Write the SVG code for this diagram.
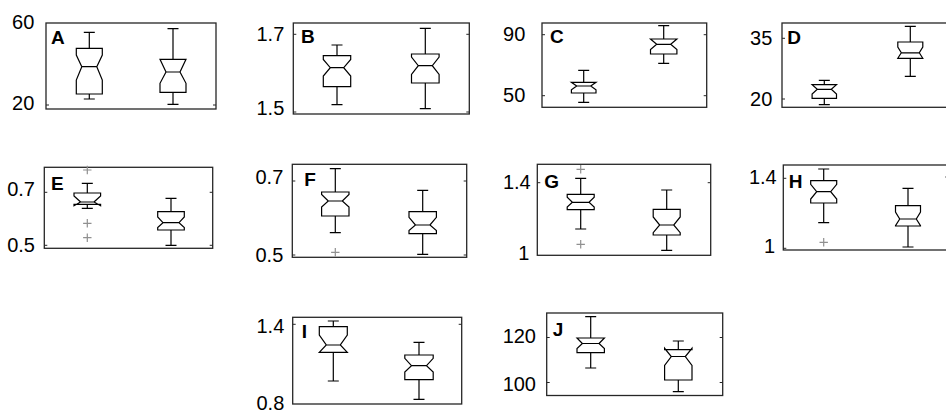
<svg xmlns="http://www.w3.org/2000/svg" width="946" height="411" viewBox="0 0 946 411">
<style>
.fr{fill:none;stroke:#262626;stroke-width:1.3}
.tk{fill:none;stroke:#262626;stroke-width:1}
.bx{fill:none;stroke:#000;stroke-width:1.2;stroke-linejoin:miter}
.ol{fill:none;stroke:#909090;stroke-width:1.2}
.t{font-family:"Liberation Sans",Arial,sans-serif;font-size:20px;fill:#000;text-anchor:end}
.l{font-family:"Liberation Sans",Arial,sans-serif;font-size:19px;font-weight:bold;fill:#000}
</style>
<rect width="946" height="411" fill="#fff"/>
<g id="panelA">
<rect class="fr" x="46" y="23" width="170" height="86"/>
<path class="tk" d="M46,105 H49 M216,105 H213"/>
<text class="t" x="34.3" y="28.5">60</text>
<text class="t" x="34.3" y="110">20</text>
<text class="l" x="51" y="44">A</text>
<path class="bx" d="M76.3,94 H102.3 V80 L96.8,66.7 L102.3,55 V48.3 H76.3 V55 L81.8,66.7 L76.3,80 Z M81.8,66.7 H96.8 M89.3,48.3 V32.3 M83.8,32.3 H94.8 M89.3,94 V99 M83.8,99 H94.8"/>
<path class="bx" d="M160,92.3 H186 V83.3 L180,72 L186,59.3 H160 L166,72 L160,83.3 Z M166,72 H180 M173,59.3 V28.7 M167.5,28.7 H178.5 M173,92.3 V104.3 M167.5,104.3 H178.5"/>
</g>
<g id="panelB">
<rect class="fr" x="293.3" y="23" width="176" height="91"/>
<path class="tk" d="M293.3,34.3 H296.3 M469.3,34.3 H466.3 M293.3,112 H296.3 M469.3,112 H466.3"/>
<text class="t" x="284.3" y="40.5">1.7</text>
<text class="t" x="284.3" y="115">1.5</text>
<text class="l" x="301" y="42.7">B</text>
<path class="bx" d="M323.3,86.7 H350.7 V76 L343.7,67.7 L350.7,59.5 V55.7 H323.3 V59.5 L330.3,67.7 L323.3,76 Z M330.3,67.7 H343.7 M337,55.7 V45 M331.5,45 H342.5 M337,86.7 V104.7 M331.5,104.7 H342.5"/>
<path class="bx" d="M411.5,83 H439.1 V74.5 L432.3,65.7 L439.1,57 V54 H411.5 V57 L418.3,65.7 L411.5,74.5 Z M418.3,65.7 H432.3 M425.3,54 V28.3 M419.8,28.3 H430.8 M425.3,83 V108.7 M419.8,108.7 H430.8"/>
</g>
<g id="panelC">
<rect class="fr" x="542" y="23" width="164.7" height="84.3"/>
<path class="tk" d="M542,34.7 H545 M706.7,34.7 H703.7 M542,95.7 H545 M706.7,95.7 H703.7"/>
<text class="t" x="525.3" y="40.7">90</text>
<text class="t" x="525.3" y="101.7">50</text>
<text class="l" x="550" y="43.3">C</text>
<path class="bx" d="M571.4,93 H596 V89.7 L590.7,86 L596,82.3 H571.4 L576.7,86 L571.4,89.7 Z M576.7,86 H590.7 M583.7,82.3 V70.3 M578.2,70.3 H589.2 M583.7,93 V102.3 M578.2,102.3 H589.2"/>
<path class="bx" d="M650.5,54 H676.9 V49.5 L670.7,44.3 L676.9,39 H650.5 L656.7,44.3 L650.5,49.5 Z M656.7,44.3 H670.7 M663.7,39 V25.7 M658.2,25.7 H669.2 M663.7,54 V63.3 M658.2,63.3 H669.2"/>
</g>
<g id="panelD">
<rect class="fr" x="782" y="23" width="170" height="84.3"/>
<path class="tk" d="M782,38.3 H785 M782,99 H785"/>
<text class="t" x="772.3" y="45">35</text>
<text class="t" x="772.3" y="106">20</text>
<text class="l" x="787.3" y="44.3">D</text>
<path class="bx" d="M812.1,98.3 H836.5 V94 L831.3,89.3 L836.5,84.7 H812.1 L817.3,89.3 L812.1,94 Z M817.3,89.3 H831.3 M824.3,84.7 V80.3 M818.8,80.3 H829.8 M824.3,98.3 V104.7 M818.8,104.7 H829.8"/>
<path class="bx" d="M897.8,58.3 H922.8 L919.3,52.8 L922.8,47 V42 H897.8 V47 L901.3,52.8 Z M901.3,52.8 H919.3 M910.3,42 V26.3 M904.8,26.3 H915.8 M910.3,58.3 V76.3 M904.8,76.3 H915.8"/>
</g>
<g id="panelE">
<rect class="fr" x="44.3" y="167.3" width="168.4" height="81"/>
<path class="tk" d="M44.3,192.3 H47.3 M212.7,192.3 H209.7 M44.3,245.3 H47.3 M212.7,245.3 H209.7"/>
<text class="t" x="35" y="196">0.7</text>
<text class="t" x="35" y="251.7">0.5</text>
<text class="l" x="51" y="190">E</text>
<path class="bx" d="M74,204.3 H100.6 V205.7 L94,202 L100.6,196 V193 H74 V196 L80.6,202 L74,205.7 Z M80.6,202 H94 M87.3,193 V183.3 M81.8,183.3 H92.8 M87.3,204.3 V208.3 M81.8,208.3 H92.8"/>
<path class="ol" d="M83.1,170 H91.5 M87.3,165.8 V174.2 M83.1,223.3 H91.5 M87.3,219.1 V227.5 M83.1,237.7 H91.5 M87.3,233.5 V241.9"/>
<path class="bx" d="M157.7,230 H184.3 V227.5 L179,222.7 L184.3,217 V211.7 H157.7 V217 L163,222.7 L157.7,227.5 Z M163,222.7 H179 M171,211.7 V198.3 M165.5,198.3 H176.5 M171,230 V245.3 M165.5,245.3 H176.5"/>
</g>
<g id="panelF">
<rect class="fr" x="292.3" y="164.3" width="174.4" height="93"/>
<path class="tk" d="M292.3,181 H295.3 M466.7,181 H463.7 M292.3,255 H295.3 M466.7,255 H463.7"/>
<text class="t" x="283.3" y="184.3">0.7</text>
<text class="t" x="283.3" y="261.7">0.5</text>
<text class="l" x="304.3" y="186">F</text>
<path class="bx" d="M321.6,216 H349 V207 L342.3,201 L349,194.5 V192 H321.6 V194.5 L328.3,201 L321.6,207 Z M328.3,201 H342.3 M335.3,192 V168.7 M329.8,168.7 H340.8 M335.3,216 V232.7 M329.8,232.7 H340.8"/>
<path class="ol" d="M331.1,252.3 H339.5 M335.3,248.1 V256.5"/>
<path class="bx" d="M409,233.7 H436.4 V230.5 L429.9,225 L436.4,217.3 V211.7 H409 V217.3 L415.5,225 L409,230.5 Z M415.5,225 H429.9 M422.7,211.7 V190.3 M417.2,190.3 H428.2 M422.7,233.7 V254.3 M417.2,254.3 H428.2"/>
</g>
<g id="panelG">
<rect class="fr" x="537.3" y="164.3" width="173.4" height="91"/>
<path class="tk" d="M537.3,182.7 H540.3 M710.7,182.7 H707.7"/>
<text class="t" x="530.7" y="189.3">1.4</text>
<text class="t" x="529.3" y="260">1</text>
<text class="l" x="544.3" y="188">G</text>
<path class="bx" d="M567.2,209.7 H594.2 V207 L589,202.3 L594.2,197.3 V194.3 H567.2 V197.3 L572.4,202.3 L567.2,207 Z M572.4,202.3 H589 M580.7,194.3 V178.3 M575.2,178.3 H586.2 M580.7,209.7 V229 M575.2,229 H586.2"/>
<path class="ol" d="M576.5,169.3 H584.9 M580.7,165.1 V173.5 M576.5,244.3 H584.9 M580.7,240.1 V248.5"/>
<path class="bx" d="M653.2,235 H680.2 V232.7 L673.7,225 L680.2,217 V209.3 H653.2 V217 L659.7,225 L653.2,232.7 Z M659.7,225 H673.7 M666.7,209.3 V190 M661.2,190 H672.2 M666.7,235 V250.3 M661.2,250.3 H672.2"/>
</g>
<g id="panelH">
<rect class="fr" x="783.3" y="165" width="165" height="85"/>
<path class="tk" d="M783.3,178.3 H786.3 M948.3,177 H945.3 M783.3,248.3 H786.3"/>
<text class="t" x="776.7" y="184.3">1.4</text>
<text class="t" x="775" y="252.7">1</text>
<text class="l" x="788.7" y="188.3">H</text>
<path class="bx" d="M810.7,203 H836.7 V199 L830.7,191.7 L836.7,184.3 V180.7 H810.7 V184.3 L816.7,191.7 L810.7,199 Z M816.7,191.7 H830.7 M823.7,180.7 V169 M818.2,169 H829.2 M823.7,203 V222.7 M818.2,222.7 H829.2"/>
<path class="ol" d="M819.5,242.3 H827.9 M823.7,238.1 V246.5"/>
<path class="bx" d="M895.5,226 H920.5 V225.7 L916.3,219 L920.5,212 V205.7 H895.5 V212 L899.7,219 L895.5,225.7 Z M899.7,219 H916.3 M908,205.7 V188.3 M902.5,188.3 H913.5 M908,226 V247 M902.5,247 H913.5"/>
</g>
<g id="panelI">
<rect class="fr" x="292.7" y="317.3" width="169" height="86.7"/>
<path class="tk" d="M292.7,324.3 H295.7 M461.7,324.3 H458.7"/>
<text class="t" x="284.3" y="333.3">1.4</text>
<text class="t" x="284.3" y="410">0.8</text>
<text class="l" x="301.7" y="338.3">I</text>
<path class="bx" d="M319.3,352.3 H347.3 L340.3,345 L347.3,335 V326.7 H319.3 V335 L326.3,345 Z M326.3,345 H340.3 M333.3,326.7 V321 M327.8,321 H338.8 M333.3,352.3 V381 M327.8,381 H338.8"/>
<path class="bx" d="M404.8,379.7 H433.2 V372 L426.5,365.7 L433.2,358.3 V355 H404.8 V358.3 L411.5,365.7 L404.8,372 Z M411.5,365.7 H426.5 M419,355 V342.3 M413.5,342.3 H424.5 M419,379.7 V399.3 M413.5,399.3 H424.5"/>
</g>
<g id="panelJ">
<rect class="fr" x="546.7" y="313" width="176" height="82.5"/>
<path class="tk" d="M546.7,337.5 H549.7 M722.7,337.5 H719.7 M546.7,382.5 H549.7 M722.7,382.5 H719.7"/>
<text class="t" x="536" y="342.7">120</text>
<text class="t" x="536" y="390.7">100</text>
<text class="l" x="552.7" y="336">J</text>
<path class="bx" d="M577,352.7 H604.4 V348.5 L599,343.5 L604.4,338 H577 L582.4,343.5 L577,348.5 Z M582.4,343.5 H599 M590.7,338 V316.7 M585.2,316.7 H596.2 M590.7,352.7 V368 M585.2,368 H596.2"/>
<path class="bx" d="M664.6,380 H692 V365.5 L685.3,356.5 L692,348.3 V349.7 H664.6 V348.3 L671.3,356.5 L664.6,365.5 Z M671.3,356.5 H685.3 M678.3,349.7 V341 M672.8,341 H683.8 M678.3,380 V391.7 M672.8,391.7 H683.8"/>
</g>
<g id="connectors"/>
</svg>
